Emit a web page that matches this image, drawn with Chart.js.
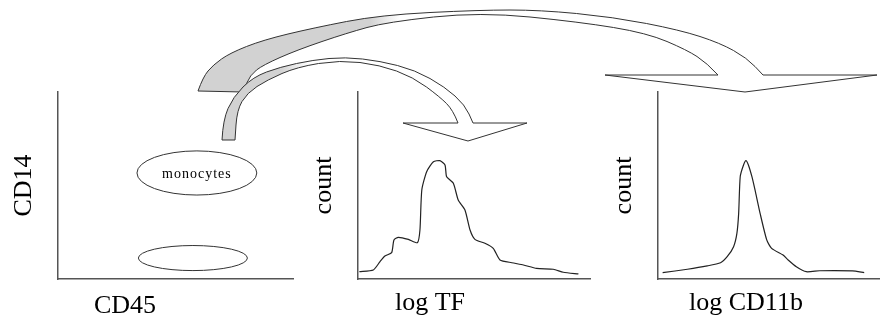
<!DOCTYPE html>
<html>
<head>
<meta charset="utf-8">
<script src="https://cdn.jsdelivr.net/npm/chart.js@4.4.1/dist/chart.umd.min.js"></script>
<style>
html, body { margin: 0; padding: 0; background: #fff; }
#wrap { position: relative; width: 880px; height: 324px; overflow: hidden; }
#wrap canvas { position: absolute; top: 0; }
</style>
</head>
<body>
<div id="wrap">
  <canvas id="gate" width="300" height="324" style="left:0"></canvas>
  <canvas id="tf" width="300" height="324" style="left:300px"></canvas>
  <canvas id="cd11b" width="280" height="324" style="left:600px"></canvas>
  <canvas id="arrows" width="880" height="324" style="left:0;pointer-events:none"></canvas>
</div>
<script>
// log TF histogram (x in % of axis, count in % of axis height)
var tfX =     [0.6, 6.6, 9.5, 11.6, 14.5, 15.5, 17.4, 21.7, 25.6, 26.7, 27.5, 29.6, 32.5, 35.3, 37.5, 38.2, 41.1, 43.2, 46.1, 48.3, 50.4, 54.7, 58.3, 61.2, 66.3, 71.3, 77.0, 84.2, 88.5, 95.0];
var tfCount = [3.9, 4.8, 9.3, 12.3, 14.1, 20.9, 22.3, 21.2, 19.4, 26.2, 47.6, 57.4, 62.7, 63.3, 61.0, 54.7, 51.2, 42.2, 36.9, 26.2, 21.2, 19.1, 16.4, 10.2, 8.7, 7.5, 5.7, 5.2, 3.6, 2.7];

// log CD11b histogram
var cd11bX =     [2.1, 13.3, 22.3, 28.3, 31.3, 34.2, 35.7, 36.5, 37.2, 38.7, 39.8, 40.9, 42.5, 43.9, 46.2, 49.2, 51.4, 56.6, 58.9, 62.6, 67.1, 73.1, 88.0, 93.3];
var cd11bCount = [3.4, 5.2, 7.0, 8.7, 11.9, 17.3, 24.4, 35.1, 54.7, 61.0, 63.3, 61.0, 54.7, 47.6, 35.1, 20.9, 16.4, 12.8, 10.2, 6.6, 3.9, 4.4, 4.3, 3.4];

// gates on the CD45 / CD14 plot (centre and half sizes, axis units)
var gateLabels = ['monocytes', ''];
var gateX = [59.1, 57.4];
var gateY = [56.7, 11.2];
var gateRx = [25.5, 23.2];
var gateRy = [11.8, 6.7];

var serif = '"Liberation Serif", "Times New Roman", serif';

function toPoints(xs, ys) {
  return xs.map(function (x, i) { return { x: x, y: ys[i] }; });
}

// x axis caption, drawn a bit left of centre like the original
var captionPlugin = {
  id: 'caption',
  afterDraw: function (chart, args, opts) {
    if (!opts.text) return;
    var ctx = chart.ctx, a = chart.chartArea;
    ctx.save();
    ctx.font = '26px ' + serif;
    ctx.fillStyle = '#000';
    ctx.textAlign = 'left';
    ctx.textBaseline = 'middle';
    ctx.fillText(opts.text, a.left + opts.indent, a.bottom + opts.drop);
    ctx.restore();
  }
};

var gatePlugin = {
  id: 'gates',
  afterDatasetsDraw: function (chart) {
    var ctx = chart.ctx, xs = chart.scales.x, ys = chart.scales.y;
    ctx.save();
    ctx.strokeStyle = '#333';
    ctx.lineWidth = 1;
    for (var i = 0; i < gateX.length; i++) {
      var cx = xs.getPixelForValue(gateX[i]);
      var cy = ys.getPixelForValue(gateY[i]);
      var rx = xs.getPixelForValue(gateX[i] + gateRx[i]) - cx;
      var ry = cy - ys.getPixelForValue(gateY[i] + gateRy[i]);
      ctx.beginPath();
      ctx.ellipse(cx, cy, rx, ry, 0, 0, Math.PI * 2);
      ctx.stroke();
      if (gateLabels[i]) {
        ctx.font = '14px ' + serif;
        ctx.letterSpacing = '1px';
        ctx.fillStyle = '#000';
        ctx.textAlign = 'center';
        ctx.textBaseline = 'middle';
        ctx.fillText(gateLabels[i], cx, cy + 1);
      }
    }
    ctx.restore();
  }
};

function panelOptions(yTitle, caption, padRight) {
  return {
    responsive: false,
    animation: false,
    layout: { padding: { top: 92, right: padRight, bottom: 45, left: 0 } },
    plugins: { legend: { display: false }, tooltip: { enabled: false }, caption: caption },
    scales: {
      x: {
        type: 'linear', min: 0, max: 100,
        grid: { display: false, drawTicks: false },
        ticks: { display: false },
        border: { display: true, color: '#555', width: 1.5 }
      },
      y: {
        type: 'linear', min: 0, max: 100,
        grid: { display: false, drawTicks: false },
        ticks: { display: false },
        border: { display: true, color: '#555', width: 1.5 },
        title: {
          display: true, text: yTitle, color: '#000',
          font: { family: serif, size: 26, lineHeight: 1 },
          padding: { top: 11, bottom: 21 }
        }
      }
    }
  };
}

new Chart(document.getElementById('gate'), {
  type: 'scatter',
  data: { datasets: [] },
  options: panelOptions('CD14', { text: 'CD45', indent: 36, drop: 27 }, 7),
  plugins: [captionPlugin, gatePlugin]
});

new Chart(document.getElementById('tf'), {
  type: 'scatter',
  data: {
    datasets: [{
      data: toPoints(tfX, tfCount),
      showLine: true, borderColor: '#222', borderWidth: 1.2,
      pointRadius: 0, tension: 0.2
    }]
  },
  options: panelOptions('count', { text: 'log TF', indent: 37, drop: 24 }, 10),
  plugins: [captionPlugin]
});

new Chart(document.getElementById('cd11b'), {
  type: 'scatter',
  data: {
    datasets: [{
      data: toPoints(cd11bX, cd11bCount),
      showLine: true, borderColor: '#222', borderWidth: 1.2,
      pointRadius: 0, tension: 0.2
    }]
  },
  options: panelOptions('count', { text: 'log CD11b', indent: 31, drop: 24 }, 1),
  plugins: [captionPlugin]
});

// curved block arrows linking the gate to the histograms (decoration only)
var bigOuter = [[198, 91], [203, 77], [213, 65], [230, 53], [263, 40], [313, 28], [380, 15], [480, 10], [540, 10], [613, 17], [680, 30], [720, 43], [747, 58], [763, 75]];
var bigInner = [[718, 75], [707, 63], [687, 50], [647, 33], [580, 22], [480, 12], [387, 22], [347, 33], [297, 50], [263, 65], [250, 75], [243, 92]];
var bigHead = [[877, 75], [745, 92], [605, 75], [718, 75]];
var smallOuter = [[222, 140], [223, 120], [233, 97], [253, 77], [280, 67], [313, 60], [345, 57], [380, 61], [415, 70], [445, 87], [465, 105], [473, 123]];
var smallInner = [[458, 123], [453, 110], [440, 97], [413, 77], [380, 65], [340, 60], [297, 67], [267, 80], [247, 93], [237, 110], [235, 140]];
var smallHead = [[527, 123], [468, 141], [403, 123], [458, 123]];

function curve(ctx, pts) {
  ctx.lineTo(pts[0][0], pts[0][1]);
  for (var i = 1; i < pts.length - 1; i++) {
    var mx = (pts[i][0] + pts[i + 1][0]) / 2;
    var my = (pts[i][1] + pts[i + 1][1]) / 2;
    ctx.quadraticCurveTo(pts[i][0], pts[i][1], mx, my);
  }
  var last = pts[pts.length - 1];
  ctx.lineTo(last[0], last[1]);
}

function blockArrow(ctx, outer, head, inner, grayTo) {
  ctx.beginPath();
  ctx.moveTo(outer[0][0], outer[0][1]);
  curve(ctx, outer);
  head.forEach(function (p) { ctx.lineTo(p[0], p[1]); });
  curve(ctx, inner);
  ctx.closePath();
  var g = ctx.createLinearGradient(grayTo - 20, 0, grayTo + 10, 0);
  g.addColorStop(0, '#d2d2d2');
  g.addColorStop(1, '#ffffff');
  ctx.fillStyle = g;
  ctx.fill();
  ctx.strokeStyle = '#333';
  ctx.lineWidth = 1;
  ctx.lineJoin = 'miter';
  ctx.stroke();
}

var actx = document.getElementById('arrows').getContext('2d');
blockArrow(actx, bigOuter, bigHead, bigInner, 390);
blockArrow(actx, smallOuter, smallHead, smallInner, 300);
</script>
</body>
</html>
